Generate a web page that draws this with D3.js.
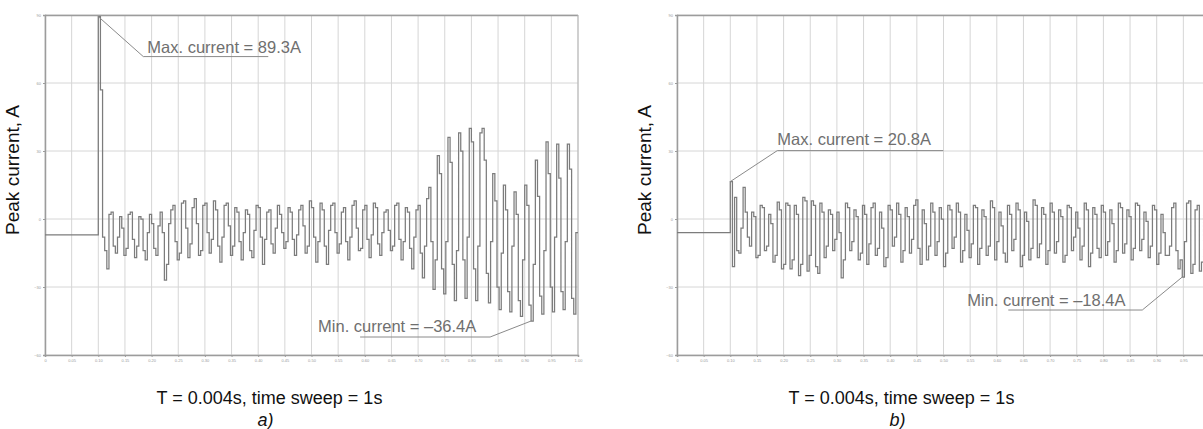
<!DOCTYPE html>
<html>
<head>
<meta charset="utf-8">
<script src="https://cdn.jsdelivr.net/npm/d3@7"></script>
<style>
  body { margin: 0; background: #fff; }
  svg { display: block; font-family: "Liberation Sans", Arial, sans-serif; }
</style>
</head>
<body>
<div id="chart"></div>
<script>
// sampling: T = 0.004 s, sweep 1 s, fault applied at t = 0.1 s
const sampleStep = 0.004;
const faultTime = 0.1;

const timeTicks = [0, 0.05, 0.1, 0.15, 0.2, 0.25, 0.3, 0.35, 0.4, 0.45, 0.5,
  0.55, 0.6, 0.65, 0.7, 0.75, 0.8, 0.85, 0.9, 0.95, 1];
const currentTicks = [-60, -30, 0, 30, 60, 90];

const preFaultA = -7;
const preFaultB = -6;

// peak current samples after the fault, panel a)
const currentA = [
  89.3, 57, -8, -14, -22,   2, 3, -12, -15, -8,   1, -4, -16, -13, 2,
  3, -9, -17, -12, 1,   0, -14, -18, -6, 2,   -2, -13, -16, -3, 3,
  -6, -27, -20, -2, 4,   6, -10, -18, -15, 7,   8, -4, -17, -11, 5,
  9, -2, -16, -14, 6,   7, -6, -15, -9, 8,   4, -12, -19, -8, 6,
  7, -3, -16, -12, 5,   3, -10, -18, -6, 4,   2, -14, -17, -5, 6,
  5, -8, -20, -9, 3,   4, -11, -15, -4, 6,   2, -6, -13, -10, 5,
  3, -9, -16, -7, 4,   6, -3, -15, -12, 8,   5, -8, -19, -10, 7,
  4, -12, -20, -5, 6,   7, -6, -15, -11, 3,   5, -10, -18, -8, 6,
  8, -4, -14, -13, 4,   6, -9, -17, -7, 7,   5, -11, -16, -6, 3,
  4, -5, -14, -12, 6,   7, -9, -18, -10, 5,   3, -13, -22, -8, 4,
  6, -15, -26, -12, 9,   14, -10, -31, -18, 28,   20, -22, -33, -10, 36,
  25, -20, -36, -14, 38,   30, -18, -35, -8, 40,   34, -22, -36, -12, 38,
  40, 26, -24, -37, -10,   20, 8, -30, -40, -15,   15, 4, -32, -41, -12,
  12, 2, -36, -43, -18,   15, 6, -38, -45, -20,   26, 10, -34, -42, -14,
  34, 20, -30, -41, -8,   33, 18, -32, -40, -10,   33, 22, -35, -42, -6
];

// peak current samples after the fault, panel b)
const currentB = [
  16.5, -21, 9.5, -14, -15,   -4, 14, 3, -8, -12,   3, 1, -17, -16, 6,
  5, -14, -12, 2, -2,   -19, -16, 7.5, 4, -22,   -20, 7, 6, -22, -18,
  6, 2, -25, -20, 9.5,   8, -23, -16, 8, 6,   -21, -24, 7, 3, -17,
  -12, 4, 2, -14, -9,   3, -6, -26, -18, 7,   5, -14, -10, 4, 1,
  -18, -15, 6, 2, -20,   -11, 5, 7, -16, -13,   3, -4, -21, -17, 6,
  4, -12, -8, 7, 2,   -19, -14, 5, 1, -15,   -9, 6, 8.4, -13, -20,
  4, -2, -18, -12, 7,   3, -16, -10, 5, 0,   -21, -15, 6, 4, -13,
  -8, 7, 3, -19, -14,   2, -5, -17, -11, 6,   5, -20, -13, 4, 1,
  -16, -12, 8, 5, -18,   -10, 3, -3, -15, -19,   6, 2, -14, -9, 7,
  4, -21, -16, 3, -1,   -18, -13, 8.4, 6, -17,   -11, 5, 2, -20, -14,
  7, 3, -15, -10, 4,   1, -19, -16, 6, 5,   -14, -8, 3, -4, -18,
  -12, 7, 4, -21, -15,   5, 2, -13, -17, 6,   3, -16, -10, 4, -2,
  -19, -14, 7, 5, -15,   -11, 4, 1, -18, -13,   7, 6, -14, -9, 3,
  -1, -17, -12, 6, 4,   -20, -15, 2, -6, -16,   -16, -12, 5, 7, -14,
  -22, -18, -25.6, -10, 7,   8, -24, -20, 4, 6,   -23, -19, 5, 3, -15
];

const W = 1203;
const H = 429;

const svg = d3.select('#chart')
  .append('svg')
  .attr('width', W)
  .attr('height', H)
  .attr('viewBox', [0, 0, W, H]);


function drawPanel ({ left, preFault, values, maxNote, minNote, tag }) {
  const top = 15;
  const plotW = 533;
  const plotH = 340;

  const x = d3.scaleLinear().domain([0, 1]).range([left, left + plotW]);
  const y = d3.scaleLinear().domain([-60, 90]).range([top + plotH, top]);

  const g = svg.append('g');

  // grid
  g.append('g')
    .selectAll('line')
    .data(timeTicks)
    .join('line')
    .attr('x1', d => x(d)).attr('x2', d => x(d))
    .attr('y1', top).attr('y2', top + plotH)
    .attr('stroke', '#d6d6d6')
    .attr('stroke-width', 1);

  g.append('g')
    .selectAll('line')
    .data(currentTicks)
    .join('line')
    .attr('x1', left).attr('x2', left + plotW)
    .attr('y1', d => y(d)).attr('y2', d => y(d))
    .attr('stroke', '#d6d6d6')
    .attr('stroke-width', 1);

  // frame
  g.append('line')
    .attr('x1', left).attr('x2', left + plotW)
    .attr('y1', top + 0.5).attr('y2', top + 0.5)
    .attr('stroke', '#9c9c9c')
    .attr('stroke-width', 1.5);
  g.append('line')
    .attr('x1', left + plotW).attr('x2', left + plotW)
    .attr('y1', top).attr('y2', top + plotH)
    .attr('stroke', '#b5b5b5');

  const xAxis = g.append('g')
    .attr('transform', `translate(0,${top + plotH})`)
    .call(d3.axisBottom(x)
      .tickValues(timeTicks.filter(d => x(d) < W - 12))
      .tickSize(2)
      .tickPadding(2)
      .tickFormat(d => d === 0 ? '0' : d3.format('.2f')(d)));

  const yAxis = g.append('g')
    .attr('transform', `translate(${left},0)`)
    .call(d3.axisLeft(y)
      .tickValues(currentTicks)
      .tickSize(2)
      .tickPadding(2));

  [xAxis, yAxis].forEach(a => {
    a.select('.domain').attr('stroke', '#9c9c9c').attr('stroke-width', 1.5);
    a.selectAll('.tick line').attr('stroke', '#9c9c9c');
    a.selectAll('.tick text')
      .attr('fill', '#9a9a9a')
      .style('font-size', '4px');
  });

  // signal (sample-and-hold steps)
  const points = [{ t: 0, v: preFault }]
    .concat(values.map((v, i) => ({ t: faultTime + i * sampleStep, v })));
  points.push({ t: 1, v: values[values.length - 1] });

  const line = d3.line()
    .x(d => x(d.t))
    .y(d => y(d.v))
    .curve(d3.curveStepAfter);

  g.append('path')
    .datum(points)
    .attr('d', line)
    .attr('fill', 'none')
    .attr('stroke', '#7c7c7c')
    .attr('stroke-width', 1.25);

  // annotations
  [maxNote, minNote].forEach(n => {
    const ax = x(faultTime + n.index * sampleStep);
    const ay = y(values[n.index]);
    const ex = ax + n.elbow[0];
    const ey = ay + n.elbow[1];

    g.append('polyline')
      .attr('points', [[ax, ay], [ex, ey], [ex + n.under, ey]].join(' '))
      .attr('fill', 'none')
      .attr('stroke', '#8a8a8a')
      .attr('stroke-width', 1);

    g.append('text')
      .attr('x', ex + n.text[0])
      .attr('y', ey + n.text[1])
      .attr('fill', '#6f6f6f')
      .style('font-size', '16.5px')
      .text(n.label);
  });

  // axis titles
  g.append('text')
    .attr('transform', `translate(${left - 26},${170}) rotate(-90)`)
    .attr('text-anchor', 'middle')
    .attr('fill', '#111')
    .style('font-size', '19px')
    .text('Peak current, A');

  g.append('text')
    .attr('x', left + plotW / 2 - 42)
    .attr('y', 404)
    .attr('text-anchor', 'middle')
    .attr('fill', '#111')
    .style('font-size', '18px')
    .text('T = 0.004s, time sweep = 1s');

  g.append('text')
    .attr('x', left + plotW / 2 - 46)
    .attr('y', 426)
    .attr('text-anchor', 'middle')
    .attr('fill', '#111')
    .style('font-size', '18px')
    .style('font-style', 'italic')
    .text(tag);
}


drawPanel({
  left: 45,
  preFault: preFaultA,
  values: currentA,
  maxNote: { index: 0, elbow: [45, 40], under: 125, text: [4, -4], label: 'Max. current = 89.3A' },
  minNote: { index: 203, elbow: [-41, 16], under: -130, text: [-172, -5], label: 'Min. current = \u201336.4A' },
  tag: 'a)'
});

drawPanel({
  left: 677,
  preFault: preFaultB,
  values: currentB,
  maxNote: { index: 0, elbow: [47, -31], under: 166, text: [0, -6], label: 'Max. current = 20.8A' },
  minNote: { index: 212, elbow: [-40, 33], under: -134, text: [-175, -4], label: 'Min. current = \u201318.4A' },
  tag: 'b)'
});
</script>
</body>
</html>
